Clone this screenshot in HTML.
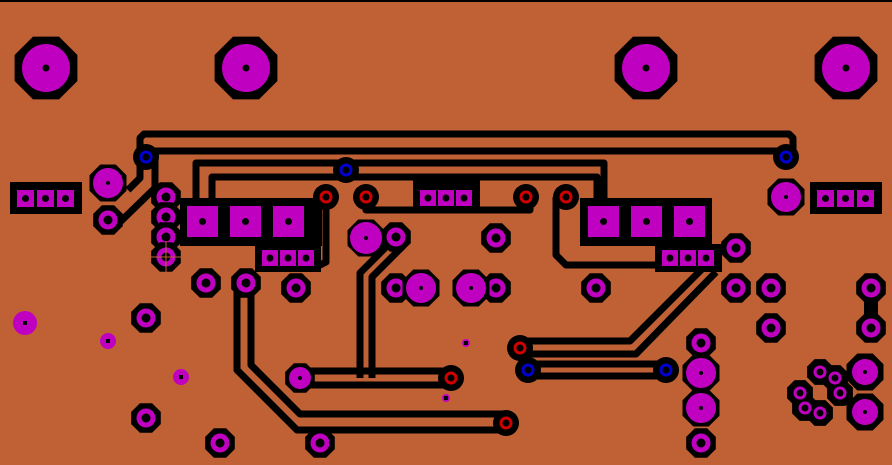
<!DOCTYPE html>
<html><head><meta charset="utf-8"><style>
html,body{margin:0;padding:0;background:#c06035;}
svg{display:block}
</style></head><body>
<svg id="s" width="892" height="465" xmlns="http://www.w3.org/2000/svg">
<rect width="892" height="465" fill="#c06035"/>
<rect width="892" height="2" fill="#000"/>
<g fill="none" stroke="#000" stroke-width="7" stroke-linejoin="round">
<path d="M128,190 L140,178 L140,138 L144,134 L789,134 L793,138 L793,157"/>
<path d="M118,224 L155,188 L155,151 L780,151"/>
<path d="M196,205 L196,163 L604,163 L604,205"/>
<path d="M212,205 L212,177 L597,177 L597,205"/>
<path d="M326,197 L326,262 L318,266"/>
<path d="M366,197 L366,210 L530,210 L530,197"/>
<path d="M556,197 L556,255 L566,265 L665,265"/>
<path d="M520,341 L630,341 L707,264"/>
<path d="M520,354 L636,354 L716,272"/>
<path d="M528,364 L666,364"/>
<path d="M528,376 L666,376"/>
<path d="M237,283 L237,370 L297,430 L506,430"/>
<path d="M251,283 L251,365 L300,414 L506,414"/>
<path d="M360,378 L360,273 L393,240"/>
<path d="M372,378 L372,277 L403,246"/>
<path d="M300,371 L451,371"/>
<path d="M300,385 L451,385"/>
<path d="M871,288 L871,328" stroke-width="14"/>
</g>
<g id="g"></g>
</svg>
<script>
var g=document.getElementById('g');var h='';
var M='#c000c0';
function oct(x,y,r){var p=[];for(var k=0;k<8;k++){var a=(22.5+45*k)*Math.PI/180;p.push((x+r*Math.cos(a)).toFixed(1)+','+(y+r*Math.sin(a)).toFixed(1));}h+='<polygon points="'+p.join(' ')+'" fill="#000"/>';}
function ring(x,y){oct(x,y,16);h+='<circle cx="'+x+'" cy="'+y+'" r="9.5" fill="'+M+'"/><circle cx="'+x+'" cy="'+y+'" r="4.5" fill="#000"/>';}
function disc(x,y,R,r){oct(x,y,R);h+='<circle cx="'+x+'" cy="'+y+'" r="'+r+'" fill="'+M+'"/><circle cx="'+x+'" cy="'+y+'" r="2" fill="#000"/>';}
function bare(x,y,r){h+='<circle cx="'+x+'" cy="'+y+'" r="'+r+'" fill="'+M+'"/><rect x="'+(x-2)+'" y="'+(y-2)+'" width="4" height="4" fill="#000"/>';}
function via(x,y,c){h+='<circle cx="'+x+'" cy="'+y+'" r="13" fill="#000"/><circle cx="'+x+'" cy="'+y+'" r="5" fill="none" stroke="'+c+'" stroke-width="3"/>';}
function rect(x,y,w,hh,c){h+='<rect x="'+x+'" y="'+y+'" width="'+w+'" height="'+hh+'" fill="'+c+'"/>';}
function sq(x,y,s){rect(x,y,s,s,M);h+='<circle cx="'+(x+s/2)+'" cy="'+(y+s/2)+'" r="3.5" fill="#000"/>';}
// mounting holes
[46,246,646,846].forEach(function(x){oct(x,68,34);h+='<circle cx="'+x+'" cy="68" r="24" fill="'+M+'"/><circle cx="'+x+'" cy="68" r="3.5" fill="#000"/>';});
// headers
function hdr(x,y,w,hh,px,py,s){rect(x,y,w,hh,'#000');px.forEach(function(p){sq(p,py,s);});}
hdr(10,182,72,32,[17,37,57],190,17);
hdr(810,182,72,32,[817,837,857],190,17);
hdr(413,180,67,30,[420,438,456],190,16);
hdr(255,244,66,28,[262,280,298],250,16);
hdr(655,244,67,28,[662,680,698],250,16);
// regulators
rect(180,198,142,48,'#000');sq(187,206,31);sq(230,206,31);sq(273,206,31);
rect(580,198,132,48,'#000');sq(588,206,31);sq(631,206,31);sq(674,206,31);
// left column
[197,217,237,257].forEach(function(y){ring(166,y);});
h+='<path d="M150,257 H182 M166,241 V273" stroke="#c06035" stroke-width="1"/>';
disc(108,183,20,15);ring(108,220);
[[206,283],[246,283],[296,288],[146,318],[146,418],[220,443],[320,443],[396,237],[396,288],[496,288],[496,238],[596,288],[736,248],[736,288],[771,288],[771,328],[871,288],[871,328],[701,343],[701,443]].forEach(function(p){ring(p[0],p[1]);});
disc(300,378,16,11);disc(366,238,20,16);disc(421,288,20,15);disc(471,288,20,15);
disc(701,373,20,15);disc(701,408,20,15);disc(786,197,20,15);
disc(865,372,20,13);disc(865,412,20,13);
[[820,372],[835,378],[800,393],[840,393],[805,408],[820,413]].forEach(function(p){oct(p[0],p[1],14);});
[[820,372],[835,378],[800,393],[840,393],[805,408],[820,413]].forEach(function(p){h+='<circle cx="'+p[0]+'" cy="'+p[1]+'" r="6.5" fill="'+M+'"/><circle cx="'+p[0]+'" cy="'+p[1]+'" r="3.5" fill="#000"/>';});
bare(25,323,12);bare(108,341,8);bare(181,377,8);bare(466,343,4);bare(446,398,4);
[[326,197],[366,197],[526,197],[566,197],[520,348],[451,378],[506,423]].forEach(function(p){via(p[0],p[1],'#d00000');});
[[146,157],[346,170],[786,157],[528,370],[666,370]].forEach(function(p){via(p[0],p[1],'#0000d0');});
g.innerHTML=h;
</script>
</body></html>
